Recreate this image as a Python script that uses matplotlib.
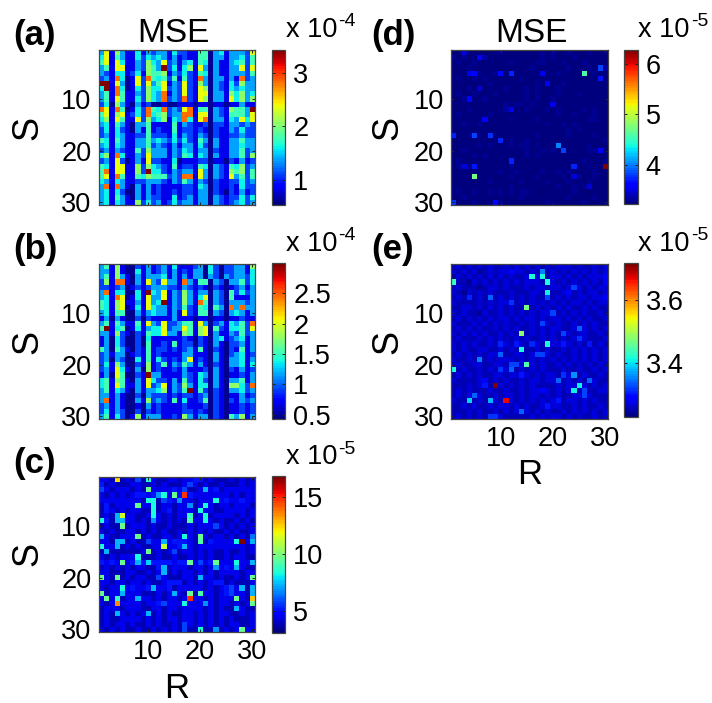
import numpy as np
import matplotlib
matplotlib.use('Agg')
import matplotlib.pyplot as plt

plt.rcParams['font.family'] = ['Liberation Sans', 'DejaVu Sans']

W, H = 712, 703

###################################################################################################
# Values. Digits are colour levels, 0 = bottom of the colorbar, 9 = top

levels = [.03, .1, .2, .29, .36, .43, .53, .64, .79, 1.0]

rows_a = [
 '3716311413 2331422115 5034133327',
 '4715311424 3431312115 5033133425',
 '5717411326 4372313415 4031134525',
 '3517711326 5392414617 3031133727',
 '3214412416 5561324215 4031133325',
 '2318401728 5452515218 3033131823',
 '9917301727 3571327216 3032142633',
 '4918401426 4472327217 6032143433',
 '3518511326 4381327217 7033164634',
 '3517511426 4382328217 6033174636',
 '2406310312 0010011101 1011011311',
 '8718501428 5482327815 5032165539',
 '5716712428 4562338817 7032155537',
 '4617511726 3461438417 8033143747',
 '3415310335 1111513211 2022133232',
 '2414210315 1211512212 1021132422',
 '2314311225 2221413213 2021122322',
 '5415311335 3432424215 3031133533',
 '3414311335 2321313314 2031133433',
 '2313211526 3331324313 3021133523',
 '4618411327 3331325414 3031133526',
 '2317201317 2211401112 2011021312',
 '5417711626 4321512215 4032154623',
 '5817711629 4421323317 3032165625',
 '5718511546 5552328817 3032173525',
 '4314311223 3321325313 2021122423',
 '3818310313 1211112214 3021121422',
 '3414200313 1211212213 3021021312',
 '3415310313 2211412313 3032122424',
 '3414311624 2312423313 3032123423',
]

rows_b = [
 '3516100213 1231411123 0420223316',
 '3316100413 1231312133 0420223314',
 '3516310313 3341313133 0320323324',
 '2618810317 3273318315 5032033524',
 '2212301212 3332213212 1021012313',
 '3814400419 4371326313 3032052423',
 '3418701417 3371326314 7032051113',
 '5416711317 3491326318 5032033323',
 '5416701417 4331325215 4053083833',
 '3415500313 4331317215 5032034313',
 '1303100202 1111311101 1011011211',
 '3515311517 3272235517 3023143528',
 '5914501413 4472337516 7052144527',
 '3316210215 4473316516 7031132523',
 '1304200204 1111112102 1034123413',
 '1304200205 1121512202 1031022313',
 '5305310215 1221212315 1021021513',
 '2313301215 1211113311 1031023412',
 '2303200415 1421213712 1031033413',
 '2416300216 1251325313 1021033414',
 '2317410306 1211213111 2031021312',
 '1307500219 3311113214 3031011213',
 '4516510317 4221315214 2031033513',
 '4517511317 2371326314 4031066428',
 '3514310313 3461325915 2021033423',
 '3313100203 2221212212 3021011312',
 '3813100316 2321514112 5021021323',
 '2313100103 1211112111 2021011212',
 '2413200202 1211112212 1021011212',
 '3514201613 3311216313 3021053613',
]

# background of the three sparse panels, digits are steps of bg_step
bg_c = [
 '2212121211 2112212233 1211121212',
 '3121112211 2121112121 2112111212',
 '2212221211 2222322112 2231222222',
 '2121212332 3312333322 2222212122',
 '2222222212 2123222212 2212322322',
 '1312222122 2122122212 2212212221',
 '1321212211 2123122212 2211222212',
 '1211122112 2212122212 2122221212',
 '2312122121 2212121222 1212112121',
 '1211212221 2112111212 2212121212',
 '2121122121 2121121212 1211212112',
 '2211222112 1122122211 2122121212',
 '2212212112 2222333212 1322222122',
 '2222121211 2222233212 2222222212',
 '1211111121 1212212212 1211211212',
 '2121222111 1211211212 1211212211',
 '3232223233 3333233223 2322223223',
 '1212121221 1321222122 1212322211',
 '2211122112 1221212212 1212222122',
 '1212121221 1321112212 2212112121',
 '2212212212 1123331212 1233121112',
 '2122123223 2223122222 1212312312',
 '2122122211 1212221212 2212322212',
 '2122122222 1212212222 1212222212',
 '2121222212 2322222222 2212212122',
 '1222122211 2212212222 1212112211',
 '1212212121 1212112212 1212211212',
 '1211222212 1212212212 1212121112',
 '1212212112 1211212212 1212122112',
 '2121211211 2121212112 1121212122',
]

bg_d = [
 '1111111112 1111111212 1121112111',
 '2121113111 1111111212 1112111111',
 '1211211111 1211112211 1211121111',
 '1112111111 1111121111 1121112113',
 '1112221121 1211111211 2111121211',
 '1211212111 1112111111 1111111111',
 '1111111211 1111112111 1211111111',
 '1112111111 2111212111 2111111111',
 '1211211121 1111212111 2111211111',
 '1121112111 1111212112 1111111111',
 '1111111111 2122121112 1111111111',
 '1112111111 3111211121 2111121211',
 '1211111211 1111111111 2112111211',
 '1111111111 1211112111 1111112211',
 '1121121111 1111111121 1212111111',
 '1111111111 1111111111 1121211111',
 '2112111211 1111112111 1121111211',
 '1111111111 1211211111 1111111112',
 '1111121211 1212212111 1111112111',
 '1121111111 1111211212 1111112211',
 '1111212111 1111212111 1111111111',
 '1211111111 1111111111 1111121112',
 '1212111111 1211111111 1111112111',
 '1111111112 1121111211 2121111211',
 '1111111111 1211112111 1211211211',
 '1111111211 1112111121 1121112111',
 '1111111111 1211111111 2112121111',
 '1211211212 1212211111 1112111111',
 '1121111111 1112111111 1121111211',
 '1111211112 1111111121 1111121111',
]

bg_e = [
 '2323232322 3232323232 3332322323',
 '3232312323 3433232323 2323232323',
 '1323232323 2322323223 3232323334',
 '2221323232 3232333223 2323232324',
 '2322212332 3222323323 3232323233',
 '3213232322 2322233232 2342323323',
 '2323232223 2323232232 3232332334',
 '3222232323 3223232323 2323323233',
 '2233232323 2322323232 3232232322',
 '3232213223 2323232332 2323232232',
 '2323232323 3232332323 3232323223',
 '3222323232 3223232232 3223232322',
 '2323232232 3232232323 3223332323',
 '3232323223 2323232323 2332332232',
 '2322232323 2232322323 2323232223',
 '3232322323 3233233223 3232323232',
 '3232233223 2323223232 2323232323',
 '2323232332 2233232232 3223232323',
 '3223232323 3323232323 2323232323',
 '2322332233 2233232322 3232323232',
 '3232232323 3323232322 2322322323',
 '2323232233 2332323233 2333232232',
 '3222233232 3223233233 3232323322',
 '2223233233 2323232222 3233232323',
 '2323222322 3223233232 3233232233',
 '2323332232 3323233232 3223323222',
 '3223232232 3323232323 3233232322',
 '2232322323 3232322333 3223232232',
 '2223232232 3232323232 2323232323',
 '2323232323 2222232323 3232322323',
]

# brighter cells: row, column (both from 1) and colour fraction
hot_c_row = [1, 1, 2, 1, 3, 3, 3, 3, 4, 4, 4, 4, 5, 5, 5, 5, 5, 6, 6, 6, 6, 7, 7, 8, 8, 8, 8, 8, 9, 9, 9, 9, 9, 9, 10, 10,
             12, 12, 12, 12, 12, 13, 13, 13, 13, 13, 13, 13, 13, 14, 14, 14, 14, 15, 15, 15, 16, 17, 17, 17, 17, 17, 17, 17, 17,
             18, 18, 18, 19, 20, 20, 20, 20, 20, 22, 22, 22, 22, 22, 23, 23, 23, 23, 23, 23, 23, 24, 24, 24, 24, 24, 24,
             25, 25, 25, 25, 25, 26, 27, 27, 29, 30, 30, 30, 30]
hot_c_col = [4, 10, 18, 8, 10, 17, 21, 1, 17, 15, 13, 12, 11, 10, 16, 23, 13, 8, 11, 21, 18, 11, 20, 4, 5, 11, 21, 18, 1, 4, 5, 21, 18, 11, 5, 23,
             1, 8, 17, 20, 30, 28, 27, 20, 30, 4, 5, 10, 13, 1, 13, 17, 4, 2, 10, 15, 8, 8, 5, 10, 18, 23, 27, 30, 20,
             13, 27, 23, 13, 1, 4, 30, 20, 12, 5, 11, 28, 26, 30, 1, 18, 20, 15, 5, 30, 26, 18, 2, 4, 8, 27, 30,
             4, 17, 21, 30, 13, 27, 4, 10, 17, 17, 20, 28, 23]
hot_c_frac = [.68, .38, .2, .2, .47, .2, .3, .2, .85, .47, .38, .28, .38, .38, .28, .38, .2, .47, .38, .38, .28, .38, .38, .3, .6, .38, .38, .42, .38, .3, .3, .38, .45, .28, .47, .2,
              .3, .47, .38, .47, .25, 1.0, .38, .45, .3, .3, .3, .2, .3, .38, .58, .3, .3, .3, .47, .2, .38, .3, .47, .33, .47, .47, .38, .3, .2,
              .3, .3, .28, .3, .47, .47, .47, .3, .2, .38, .3, .3, .2, .3, .47, .47, .45, .3, .3, .3, .2, .85, .47, .42, .3, .47, .7,
              .75, .38, .28, .47, .2, .3, .3, .3, .2, .2, .38, .47, .28]

hot_d_row = [5, 4, 6, 2, 1, 5, 5, 5, 5, 5, 7, 8, 10, 12, 14, 17, 17, 17, 18, 19, 20, 20, 22, 23, 23, 23, 23, 25, 30, 30, 25, 11, 27]
hot_d_col = [26, 29, 29, 6, 3, 5, 4, 10, 12, 18, 19, 6, 4, 12, 7, 1, 5, 8, 10, 21, 22, 29, 12, 3, 5, 24, 30, 5, 1, 9, 24, 20, 27]
hot_d_frac = [.45, .2, .15, .12, .08, .13, .1, .13, .17, .1, .12, .08, .13, .1, .14, .17, .2, .18, .16, .25, .2, .12, .16, .08, .15, .17, 1.0, .5, .18, .14, .08, .1, .08]

hot_e_row = [4, 3, 3, 2, 4, 6, 7, 5, 7, 7, 8, 9, 10, 12, 13, 14, 14, 15, 16, 16, 16, 16, 16, 16, 17, 18, 18, 18, 19, 20, 20, 20,
             21, 21, 21, 22, 22, 22, 23, 23, 23, 24, 24, 24, 25, 25, 25, 26, 27, 27, 27, 26, 28, 29, 30, 30, 27]
hot_e_col = [1, 16, 18, 18, 19, 19, 19, 24, 8, 4, 12, 15, 20, 18, 25, 14, 22, 25, 10, 13, 16, 19, 22, 27, 14, 10, 17, 18, 6, 15, 12, 13,
             1, 10, 12, 22, 24, 14, 21, 27, 7, 9, 25, 7, 24, 26, 18, 26, 11, 4, 8, 5, 19, 14, 8, 9, 21]
hot_e_frac = [.42, .38, .38, .25, .38, .36, .2, .2, .22, .17, .18, .5, .2, .2, .22, .52, .2, .18, .17, .15, .17, .38, .15, .15, .38, .22, .2, .2, .25, .45, .2, .2,
              .38, .18, .22, .18, .28, .15, .22, .22, .12, 1.0, .36, .15, .36, .2, .12, .2, .9, .33, .3, .22, .15, .22, .18, .18, .15]

# colorbar ranges and ticks
clim_a, cticks_a, clabels_a = (.53, 3.45), [1, 2, 3], ['1', '2', '3']
clim_b, cticks_b, clabels_b = (.42, 2.99), [.5, 1, 1.5, 2, 2.5], ['0.5', '1', '1.5', '2', '2.5']
clim_c, cticks_c, clabels_c = (3.17, 16.75), [5, 10, 15], ['5', '10', '15']
clim_d, cticks_d, clabels_d = (3.22, 6.28), [4, 5, 6], ['4', '5', '6']
clim_e, cticks_e, clabels_e = (3.228, 3.718), [3.4, 3.6], ['3.4', '3.6']

axis_ticks = [10, 20, 30]


###################################################################################################
# Turn the rows into grids

def grid_from_rows(rows):
    fr = np.zeros((30, 30))
    for i, r in enumerate(rows):
        digits = r.replace(' ', '')
        for j, d in enumerate(digits):
            fr[i, j] = levels[int(d)]
    return fr

def grid_sparse(bg, bg_step, hot_row, hot_col, hot_frac):
    fr = np.zeros((30, 30))
    for i, r in enumerate(bg):
        digits = r.replace(' ', '')
        for j, d in enumerate(digits):
            fr[i, j] = int(d) * bg_step
    for r, c, v in zip(hot_row, hot_col, hot_frac):
        fr[r - 1, c - 1] = v
    return fr

def px_axes(fig, x0, y0, x1, y1):
    return fig.add_axes([x0 / W, 1 - y1 / H, (x1 - x0) / W, (y1 - y0) / H])


fig = plt.figure(figsize=(W / 100, H / 100), dpi=100)
cmap = plt.get_cmap('jet', 64)
edge = '#444444'


def panel(box, cbox, frac, clim, cticks, clabels, letter, letter_x, exponent, xlabels=False, ylab_x=28, title_x=None):
    x0, y0, x1, y1 = box
    ax = px_axes(fig, x0, y0, x1, y1)
    vals = clim[0] + frac * (clim[1] - clim[0])
    im = ax.imshow(vals, cmap=cmap, vmin=clim[0], vmax=clim[1], aspect='auto',
                   interpolation='nearest', extent=[.5, 30.5, 30.5, .5])
    ax.set_yticks(axis_ticks)
    ax.set_xticks(axis_ticks)
    ax.tick_params(direction='in', length=2, width=.7, top=True, right=True, labelsize=19.5, pad=5, color='#222222')
    if xlabels:
        ax.set_xticklabels([str(t) for t in axis_ticks])
    else:
        ax.set_xticklabels([])
    for s in ax.spines.values():
        s.set_color(edge)
        s.set_linewidth(.9)
    fig.text(ylab_x / W, 1 - (y0 + y1) / 2 / H, 'S', fontsize=26, rotation=90, ha='center', va='center')
    if xlabels:
        fig.text((x0 + x1) / 2 / W, 1 - (y1 + 56) / H, 'R', fontsize=25, ha='center', va='center')
    if title_x is not None:
        fig.text(title_x / W, 1 - (y0 - 17) / H, 'MSE', fontsize=24, ha='center', va='center')
    fig.text(letter_x / W, 1 - (y0 - 14) / H, letter, fontsize=25, fontweight='bold', ha='left', va='center')

    cax = px_axes(fig, *cbox)
    cb = fig.colorbar(im, cax=cax)
    cb.set_ticks(cticks)
    cb.set_ticklabels(clabels)
    cax.tick_params(direction='in', length=2, width=.7, left=True, right=True, labelsize=19.5, pad=6, color='#222222')
    cb.outline.set_edgecolor(edge)
    cb.outline.set_linewidth(.9)
    fig.text((cbox[0] + 14) / W, 1 - (cbox[1] - 12.5) / H, 'x 10', fontsize=19.5, ha='left', va='baseline')
    fig.text((cbox[0] + 67) / W, 1 - (cbox[1] - 23) / H, exponent, fontsize=14, ha='left', va='baseline')


frac_a = grid_from_rows(rows_a)
frac_b = grid_from_rows(rows_b)
frac_c = grid_sparse(bg_c, .05, hot_c_row, hot_c_col, hot_c_frac)
frac_d = grid_sparse(bg_d, .015, hot_d_row, hot_d_col, hot_d_frac)
frac_e = grid_sparse(bg_e, .03, hot_e_row, hot_e_col, hot_e_frac)

panel((98.5, 50, 254.5, 205), (271.5, 49.5, 285, 204.5), frac_a, clim_a, cticks_a, clabels_a, '(a)', 13, '-4', title_x=173)
panel((98.5, 264, 254.5, 419), (271.5, 263.5, 285, 419.5), frac_b, clim_b, cticks_b, clabels_b, '(b)', 13, '-4')
panel((98.5, 477, 254.5, 632), (271.5, 476.5, 285, 632.5), frac_c, clim_c, cticks_c, clabels_c, '(c)', 13, '-5', xlabels=True)
panel((451, 50, 608, 205), (624, 49.5, 637.5, 204), frac_d, clim_d, cticks_d, clabels_d, '(d)', 371, '-5', ylab_x=388, title_x=531)
panel((451, 264, 608, 419), (624, 263.5, 637.5, 417), frac_e, clim_e, cticks_e, clabels_e, '(e)', 371, '-5', xlabels=True, ylab_x=388)

fig.savefig('out.png', dpi=100)
